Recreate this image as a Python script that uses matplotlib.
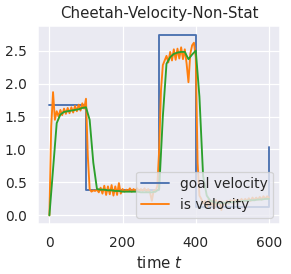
import numpy as np
import matplotlib
matplotlib.use("Agg")
import matplotlib.pyplot as plt
import seaborn as sns

# goal velocity: value starting at each change point
goal_t = [0, 100, 300, 400, 600]
goal_v = [1.68, 0.38, 2.74, 0.125, 1.04]

# measured velocity, every 5 steps
is_step = 5
is_vel = [
    0.00, 1.35, 1.87, 1.45, 1.58, 1.50, 1.60, 1.52, 1.62, 1.54,   # 0-45
    1.63, 1.55, 1.64, 1.56, 1.66, 1.58, 1.68, 1.59, 1.70, 1.62,   # 50-95
    1.77, 0.90, 0.40, 0.36, 0.38, 0.37, 0.39, 0.35, 0.42, 0.33,   # 100-145
    0.45, 0.31, 0.44, 0.32, 0.46, 0.30, 0.44, 0.31, 0.49, 0.33,   # 150-195
    0.40, 0.36, 0.39, 0.37, 0.41, 0.36, 0.40, 0.37, 0.41, 0.36,   # 200-245
    0.40, 0.37, 0.41, 0.36, 0.40, 0.35, 0.22, 0.38, 0.36, 0.45,   # 250-295
    1.00, 1.90, 2.28, 2.35, 2.42, 2.32, 2.48, 2.35, 2.52, 2.36,   # 300-345
    2.53, 2.38, 2.55, 2.37, 2.52, 2.30, 2.02, 2.45, 2.58, 2.62,   # 350-395
    2.40, 0.80, 0.30, 0.25, 0.18, 0.22, 0.12, 0.24, 0.15, 0.22,   # 400-445
    0.10, 0.23, 0.16, 0.22, 0.08, 0.20, 0.17, 0.22, 0.18, 0.23,   # 450-495
    0.19, 0.24, 0.20, 0.24, 0.21, 0.25, 0.21, 0.25, 0.22, 0.26,   # 500-545
    0.22, 0.27, 0.23, 0.27, 0.24, 0.28, 0.24, 0.29, 0.25, 0.29,   # 550-595
    0.27,                                                         # 600
]

# smoothed velocity, every 10 steps
smooth_step = 10
smooth_vel = [
    0.00, 0.70, 1.40, 1.53, 1.57, 1.58, 1.59, 1.60, 1.61, 1.63,   # 0-90
    1.64, 1.45, 0.80, 0.40, 0.39, 0.39, 0.38, 0.38, 0.37, 0.37,   # 100-190
    0.36, 0.36, 0.36, 0.36, 0.36, 0.35, 0.35, 0.35, 0.35, 0.36,   # 200-290
    0.40, 1.50, 2.30, 2.40, 2.45, 2.47, 2.48, 2.48, 2.37, 2.44,   # 300-390
    2.50, 1.80, 0.60, 0.30, 0.22, 0.20, 0.19, 0.19, 0.19, 0.20,   # 400-490
    0.20, 0.21, 0.21, 0.22, 0.22, 0.23, 0.23, 0.24, 0.24, 0.25,   # 500-590
    0.25,                                                         # 600
]

sns.set_theme(style="darkgrid")
plt.rcParams["font.family"] = ["DejaVu Sans"]

fig = plt.figure(figsize=(291 / 90, 274 / 90), dpi=90)
ax = fig.add_axes([0.132, 0.181, 0.830, 0.725])

ax.plot(goal_t, goal_v, drawstyle="steps-post", color="C0", label="goal velocity")
ax.plot(np.arange(len(is_vel)) * is_step, is_vel, color="#ff7f0e", label="is velocity")
ax.plot(np.arange(len(smooth_vel)) * smooth_step, smooth_vel, color="#2ca02c")

ax.set_title("Cheetah-Velocity-Non-Stat")
ax.set_xlabel("time $t$")
ax.set_xticks([0, 200, 400, 600])
ax.set_yticks([0.0, 0.5, 1.0, 1.5, 2.0, 2.5])
ax.legend(loc="lower right")

fig.savefig("out.png", dpi=90)
